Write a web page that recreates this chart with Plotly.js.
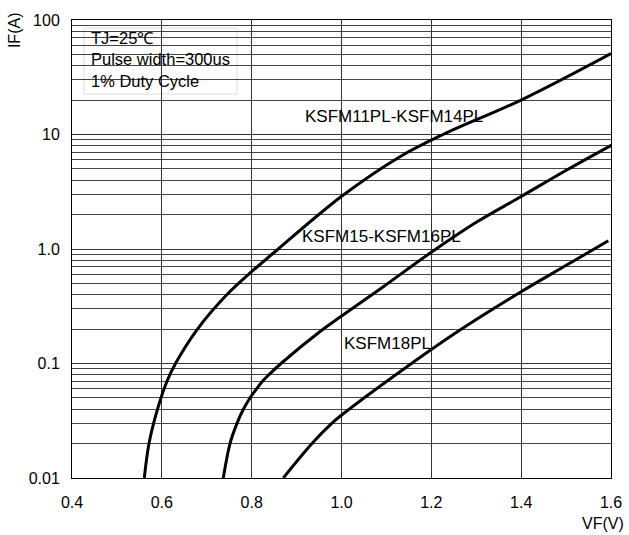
<!DOCTYPE html>
<html>
<head>
<meta charset="utf-8">
<script src="https://cdn.plot.ly/plotly-3.0.1.min.js"></script>
<style>
html,body{margin:0;padding:0;background:#fff;}
#chart{width:629px;height:535px;}
</style>
</head>
<body>
<div id="chart"></div>
<script>
// Forward voltage VF (V) vs forward current IF (A)
const vfA = [0.5610,0.5714,0.5904,0.6115,0.6304,0.6794,0.7451,0.7992,0.8591,1.0010,1.1302,1.2260,1.3996,1.6000];
const ifA = [0.01,0.02,0.04,0.07,0.1,0.2,0.4,0.63,1.0,2.9,6.4,10,20,51];

const vfB = [0.7368,0.7518,0.7673,0.7818,0.7963,0.8108,0.8241,0.8386,0.8653,0.9566,0.9978,1.0931,1.2015,1.3010,1.3990,1.5014,1.6016];
const ifB = [0.01,0.02,0.03,0.04,0.05,0.06,0.07,0.08,0.1,0.196,0.256,0.469,0.946,1.72,2.86,4.9,8.09];

const vfC = [0.8704,0.9343,0.9782,1.0004,1.1302,1.2638,1.3989,1.5014,1.594];
const ifC = [0.01,0.02,0.03,0.0355,0.0848,0.196,0.421,0.724,1.18];

const seriesNames = ['KSFM11PL-KSFM14PL','KSFM15-KSFM16PL','KSFM18PL'];

const xTickVals = [0.4,0.6,0.8,1.0,1.2,1.4,1.6];
const xTickText = ['0.4','0.6','0.8','1.0','1.2','1.4','1.6'];
const yTickVals = [0.01,0.1,1,10,100];
const yTickText = ['0.01','0.1','1.0','10','100'];

const noteLines = ['TJ=25℃','Pulse width=300us','1% Duty Cycle'];

// minor log gridlines (2..9 in each decade)
const yMinor = [];
for (let d = -2; d < 2; d++) {
  for (let k = 2; k <= 9; k++) yMinor.push(k * Math.pow(10, d));
}

const FONT = 'Arial, "Liberation Sans", sans-serif';
const lineStyle = {color:'#000', width:3, shape:'spline', smoothing:1.0};

const traces = [
  {x: vfA, y: ifA, name: seriesNames[0], mode:'lines', line: lineStyle, hoverinfo:'skip'},
  {x: vfB, y: ifB, name: seriesNames[1], mode:'lines', line: lineStyle, hoverinfo:'skip'},
  {x: vfC, y: ifC, name: seriesNames[2], mode:'lines', line: lineStyle, hoverinfo:'skip'}
];

const layout = {
  width: 629, height: 535,
  margin: {l:72, r:18, t:20, b:57, pad:0},
  paper_bgcolor:'#fff', plot_bgcolor:'#fff',
  showlegend:false,
  font: {family: FONT, size:16, color:'#000'},
  xaxis: {
    range:[0.4,1.6], tickmode:'array', tickvals:xTickVals, ticktext:xTickText,
    showgrid:true, gridcolor:'#333', gridwidth:1, zeroline:false,
    showline:true, mirror:true, linecolor:'#000', linewidth:1,
    ticks:'', ticklabelstandoff:10,
    tickfont:{family:FONT, size:16, color:'#000'}
  },
  yaxis: {
    type:'log', range:[-2,2], tickmode:'array', tickvals:yTickVals, ticktext:yTickText,
    showgrid:true, gridcolor:'#333', gridwidth:1, zeroline:false,
    showline:true, mirror:true, linecolor:'#000', linewidth:1,
    ticks:'', ticklabelstandoff:8,
    tickfont:{family:FONT, size:16, color:'#000'},
    minor:{tickmode:'array', tickvals:yMinor, showgrid:true, gridcolor:'#444', gridwidth:1, ticks:''}
  },
  shapes: [
    {type:'rect', xref:'paper', yref:'paper', x0:0.0223, x1:0.3061, y0:0.8384, y1:0.9825,
     fillcolor:'#fff', line:{color:'#dcdcdc', width:1}, layer:'between'},
    {type:'rect', xref:'paper', yref:'paper', x0:0.822, x1:0.844, y0:0.503, y1:0.5437,
     fillcolor:'#fff', line:{width:0}, layer:'between'}
  ],
  annotations: [
    {xref:'paper', yref:'paper', x:0.031, y:0.9127, xanchor:'left', yanchor:'middle', align:'left',
     text: noteLines.join('<br>'), showarrow:false, font:{family:FONT, size:16.5, color:'#000'}},
    {xref:'paper', yref:'paper', x:0.429, y:0.7889, xanchor:'left', yanchor:'middle',
     text: seriesNames[0], showarrow:false, font:{family:FONT, size:17, color:'#000'}},
    {xref:'paper', yref:'paper', x:0.4235, y:0.5269, xanchor:'left', yanchor:'middle',
     text: seriesNames[1], showarrow:false, font:{family:FONT, size:17, color:'#000'}},
    {xref:'paper', yref:'paper', x:0.501, y:0.2941, xanchor:'left', yanchor:'middle',
     text: seriesNames[2], showarrow:false, font:{family:FONT, size:17, color:'#000'}},
    {xref:'paper', yref:'paper', x:-0.1076, y:0.978, xanchor:'center', yanchor:'middle', textangle:-90,
     text:'IF(A)', showarrow:false, font:{family:FONT, size:16, color:'#000'}},
    {xref:'paper', yref:'paper', x:0.985, y:-0.1004, xanchor:'center', yanchor:'middle',
     text:'VF(V)', showarrow:false, font:{family:FONT, size:16, color:'#000'}}
  ]
};

Plotly.newPlot('chart', traces, layout, {displayModeBar:false, staticPlot:true});
</script>
</body>
</html>
